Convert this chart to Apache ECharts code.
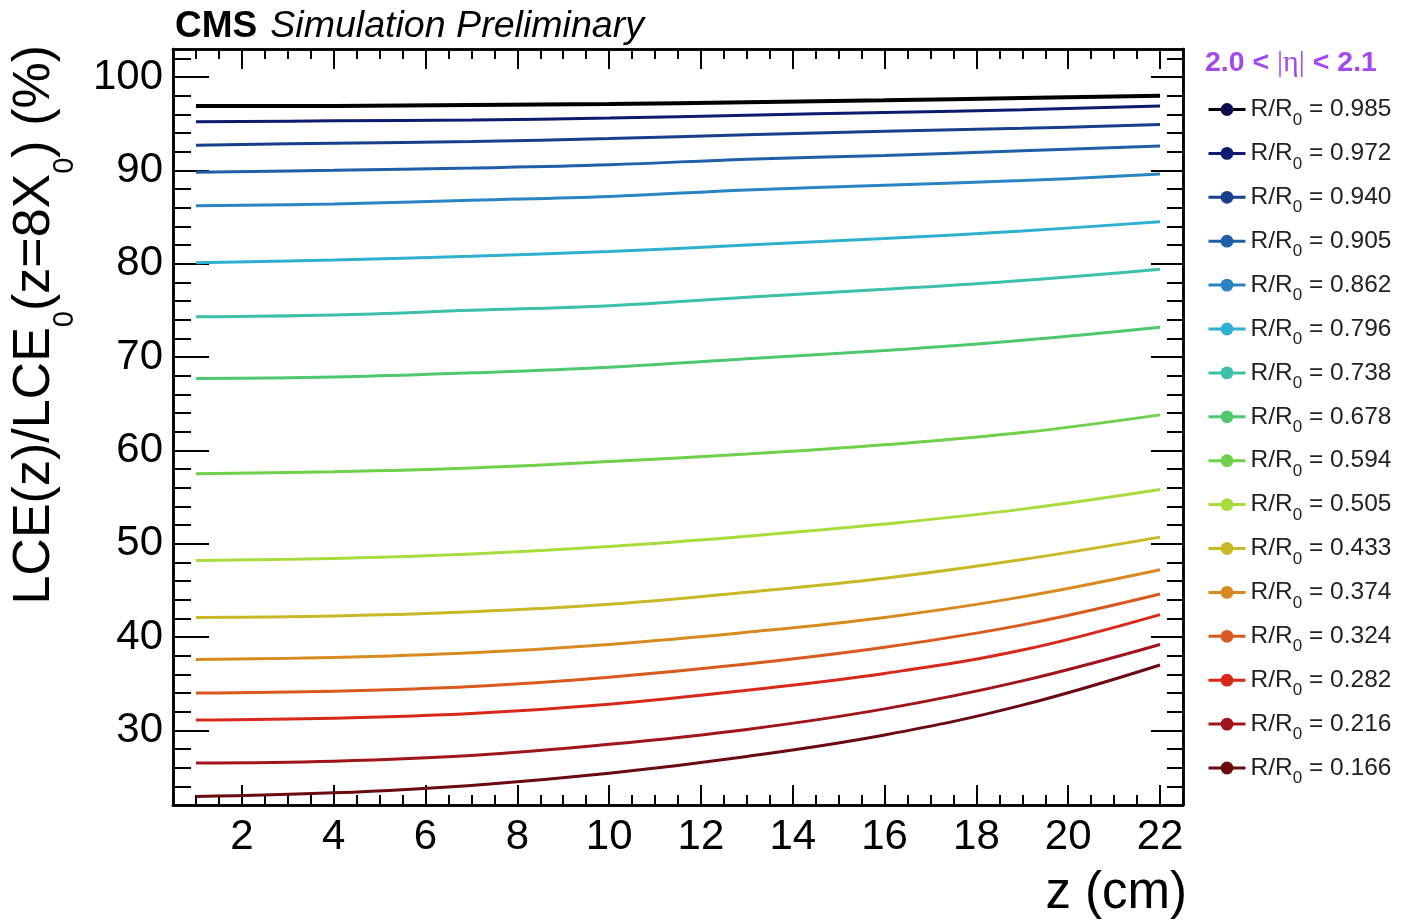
<!DOCTYPE html>
<html><head><meta charset="utf-8">
<script src="https://cdn.jsdelivr.net/npm/echarts@6/dist/echarts.min.js"></script>
<style>html,body{margin:0;padding:0;background:#fff}#c{width:1402px;height:924px}</style>
</head><body><div id="c"></div>
<script>
// ---- data ----
const zValues = [1, 4, 7, 10, 13, 16, 19, 22];
const ratioLabels = ['0.985','0.972','0.940','0.905','0.862','0.796','0.738','0.678','0.594','0.505','0.433','0.374','0.324','0.282','0.216','0.166'];
const lce_0985 = [96.9, 96.9, 97.0, 97.1, 97.3, 97.5, 97.75, 98.0];
const lce_0972 = [95.2, 95.3, 95.4, 95.6, 95.9, 96.2, 96.5, 96.9];
const lce_0940 = [92.7, 92.9, 93.1, 93.4, 93.8, 94.2, 94.5, 94.9];
const lce_0905 = [89.8, 90.0, 90.25, 90.6, 91.2, 91.6, 92.1, 92.6];
const lce_0862 = [86.2, 86.4, 86.8, 87.2, 87.9, 88.4, 88.9, 89.6];
const lce_0796 = [80.1, 80.4, 80.8, 81.3, 82.0, 82.7, 83.5, 84.5];
const lce_0738 = [74.3, 74.5, 75.0, 75.5, 76.4, 77.25, 78.2, 79.4];
const lce_0678 = [67.7, 67.85, 68.3, 68.9, 69.8, 70.7, 71.8, 73.2];
const lce_0594 = [57.5, 57.7, 58.1, 58.8, 59.6, 60.6, 61.9, 63.8];
const lce_0505 = [48.2, 48.4, 48.9, 49.7, 50.8, 52.1, 53.7, 55.8];
const lce_0433 = [42.1, 42.25, 42.7, 43.5, 44.8, 46.3, 48.3, 50.7];
const lce_0374 = [37.6, 37.8, 38.3, 39.2, 40.5, 42.1, 44.3, 47.2];
const lce_0324 = [34.0, 34.2, 34.7, 35.7, 37.1, 38.9, 41.3, 44.6];
const lce_0282 = [31.1, 31.3, 31.8, 32.8, 34.3, 36.1, 38.6, 42.4];
const lce_0216 = [26.5, 26.7, 27.3, 28.5, 30.1, 32.3, 35.3, 39.2];
const lce_0166 = [22.9, 23.3, 24.1, 25.4, 27.2, 29.5, 32.7, 37.0];
const xTickValues = [2, 4, 6, 8, 10, 12, 14, 16, 18, 20, 22];
const yTickValues = [30, 40, 50, 60, 70, 80, 90, 100];

// ---- styles ----
const lineColors = ['#000000','#0d1a6e','#183f8c','#1f5fa8','#2a84c4','#2fb0d0','#3cc0a8','#4ec86e','#6fd04a','#a8dc3c','#c8b825','#d88a20','#d85a1e','#d8281a','#a0141a','#6a0a10'];
const markerColors = ['#0b0b50','#0d1a6e','#183f8c','#1f5fa8','#2a84c4','#2fb0d0','#3cc0a8','#4ec86e','#6fd04a','#a8dc3c','#c8b825','#d88a20','#d85a1e','#d8281a','#a0141a','#6a0a10'];
const allSeriesValues = [lce_0985, lce_0972, lce_0940, lce_0905, lce_0862, lce_0796, lce_0738, lce_0678, lce_0594, lce_0505, lce_0433, lce_0374, lce_0324, lce_0282, lce_0216, lce_0166];

const FONT = "'Liberation Sans', Arial, Helvetica, sans-serif";
const SERIF = "'Liberation Serif', 'Times New Roman', serif";
const xMin = 0.5, xMax = 22.5, yMin = 22, yMax = 103;
const xMinor = []; for (let v = xMin; v <= xMax + 1e-9; v += 0.5) xMinor.push(v);
const yMinor = []; for (let v = yMin; v <= yMax + 1e-9; v += 2) yMinor.push(v);

const frame = { show: true, onZero: false, lineStyle: { color: '#000', width: 2.5 } };
function xAx(pos, vals, len, labels) {
  return { type: 'value', gridIndex: 0, position: pos, min: xMin, max: xMax,
    axisLine: frame, splitLine: { show: false },
    axisTick: { show: true, inside: true, length: len, customValues: vals, lineStyle: { color: '#000', width: 2 } },
    axisLabel: labels ? { show: true, customValues: xTickValues, fontSize: 42, color: '#000', fontFamily: FONT, margin: 11 } : { show: false } };
}
function yAx(pos, vals, len, labels) {
  return { type: 'value', gridIndex: 0, position: pos, min: yMin, max: yMax,
    axisLine: frame, splitLine: { show: false },
    axisTick: { show: true, inside: true, length: len, customValues: vals, lineStyle: { color: '#000', width: 2 } },
    axisLabel: labels ? { show: true, customValues: yTickValues, fontSize: 42, color: '#000', fontFamily: FONT, margin: 10 } : { show: false } };
}

const series = allSeriesValues.map((vals, i) => ({
  name: 'R/R₀ = ' + ratioLabels[i],
  type: 'line', xAxisIndex: 0, yAxisIndex: 0,
  data: zValues.map((z, k) => [z, vals[k]]),
  smooth: 0.4, symbol: 'circle', symbolSize: 11, showSymbol: false,
  lineStyle: { color: lineColors[i], width: i === 0 ? 4 : 3 },
  itemStyle: { color: markerColors[i] },
  emphasis: { disabled: true }
}));

const chart = echarts.init(document.getElementById('c'), null, { renderer: 'canvas' });
chart.setOption({
  animation: false,
  backgroundColor: '#fff',
  textStyle: { fontFamily: FONT },
  grid: { left: 173, right: 219, top: 49, bottom: 119, containLabel: false },
  xAxis: [xAx('bottom', xTickValues, 20, true), xAx('bottom', xMinor, 10, false), xAx('top', xTickValues, 20, false), xAx('top', xMinor, 10, false)],
  yAxis: [yAx('left', yTickValues, 36, true), yAx('left', yMinor, 18, false), yAx('right', yTickValues, 32, false), yAx('right', yMinor, 16, false)],
  legend: {
    orient: 'vertical', left: 1207, top: 97, padding: 0, itemWidth: 37, itemHeight: 16, itemGap: 12.4,
    lineStyle: { width: 3 },
    data: series.map(s => s.name),
    formatter: name => { const v = name.split('= ')[1]; return '{a|R/R}{s|0}{a| = ' + v + '}'; },
    textStyle: { color: '#222', fontFamily: FONT, rich: {
      a: { fontSize: 24.5, lineHeight: 38, color: '#222', fontFamily: FONT },
      s: { fontSize: 17, lineHeight: 38, verticalAlign: 'bottom', color: '#222', fontFamily: FONT } } }
  },
  graphic: { elements: [
    { type: 'text', x: 175, y: 8, style: { text: '{b|CMS}{sp|}{i|Simulation Preliminary}', align: 'left', verticalAlign: 'top',
      rich: { b: { fontSize: 37, fontWeight: 'bold', fontFamily: FONT, fill: '#000' }, sp: { width: 13 }, i: { fontSize: 37.6, fontStyle: 'italic', fontFamily: FONT, fill: '#000' } } } },
    { type: 'text', x: 1205, y: 63, style: { text: '{b|2.0 < }{n||η|}{b| < 2.1}', align: 'left', verticalAlign: 'middle',
      rich: { b: { fontSize: 28.5, fontWeight: 'bold', fontFamily: FONT, fill: '#a347f0' }, n: { fontSize: 30, fontFamily: SERIF, fill: '#a347f0' } } } },
    { type: 'text', x: 35, y: 45, rotation: Math.PI / 2, style: { text: '{a|LCE(z)/LCE}{s|0}{a|(z=8X}{s|0}{a|) (%)}', align: 'right', verticalAlign: 'middle',
      rich: { a: { fontSize: 52, lineHeight: 88, fontFamily: FONT, fill: '#000' }, s: { fontSize: 29, lineHeight: 88, verticalAlign: 'bottom', fontFamily: FONT, fill: '#000' } } } },
    { type: 'text', x: 1187, y: 894, style: { text: 'z (cm)', align: 'right', verticalAlign: 'middle', fontSize: 51, fontFamily: FONT, fill: '#000' } }
  ] },
  series: series
});
</script></body></html>
